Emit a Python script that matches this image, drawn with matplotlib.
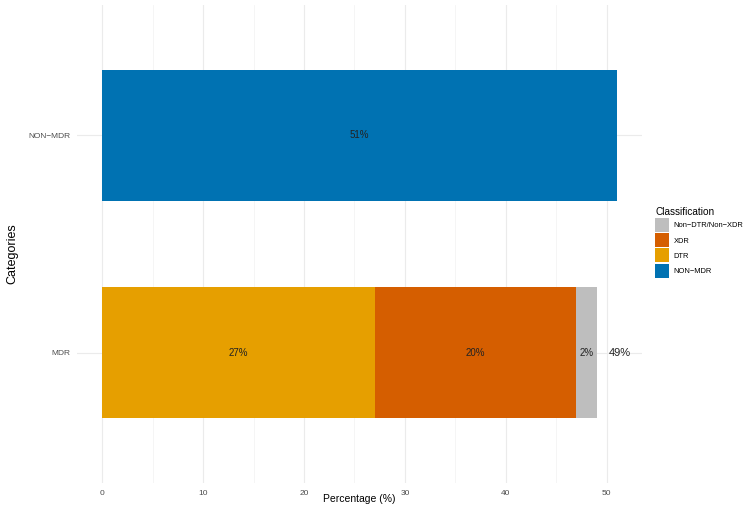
import matplotlib.pyplot as plt
from matplotlib.patches import Patch

categories = ['MDR', 'NON\u2212MDR']
classes = ['DTR', 'XDR', 'Non\u2212DTR/Non\u2212XDR', 'NON\u2212MDR']
colors = {'DTR': '#E69F00', 'XDR': '#D55E00',
          'Non\u2212DTR/Non\u2212XDR': '#BEBEBE', 'NON\u2212MDR': '#0072B2'}
# percentage for each class within each category
values = {
    'MDR': {'DTR': 27, 'XDR': 20, 'Non\u2212DTR/Non\u2212XDR': 2},
    'NON\u2212MDR': {'NON\u2212MDR': 51},
}
totals = [49, 51]

plt.rcParams['font.family'] = ['Liberation Sans', 'DejaVu Sans']

fig = plt.figure(figsize=(7.5, 5.08), dpi=100)
ax = fig.add_axes([77 / 750, 1 - 483 / 508, (642 - 77) / 750, (483 - 5) / 508])

for i, cat in enumerate(categories):
    left = 0
    for cl in classes:
        v = values[cat].get(cl)
        if not v:
            continue
        ax.barh(i + 1, v, left=left, height=0.6, color=colors[cl], zorder=2)
        ax.text(left + v / 2, i + 1, f'{v}%', ha='center', va='center',
                fontsize=7, color='#222222', zorder=3)
        left += v

# total label for MDR only
ax.text(totals[0] + 2.3, 1, f'{totals[0]}%', ha='center', va='center',
        fontsize=8, color='#222222')

ax.set_xlim(-2.5, 53.5)
ax.set_ylim(0.4, 2.6)
ax.set_yticks([1, 2])
ax.set_yticklabels(categories)
ax.set_xticks([0, 10, 20, 30, 40, 50])
ax.set_xticks([5, 15, 25, 35, 45], minor=True)
ax.tick_params(axis='both', which='both', length=0, labelsize=6,
               labelcolor='#4d4d4d', pad=5)
ax.grid(True, which='major', color='#ebebeb', linewidth=0.8, zorder=0)
ax.grid(True, which='minor', axis='x', color='#f4f4f4', linewidth=0.6, zorder=0)
for s in ax.spines.values():
    s.set_visible(False)

ax.set_xlabel('Percentage (%)', fontsize=7.5)
ax.xaxis.set_label_coords(0.5, -0.022, transform=ax.transAxes)
ax.xaxis.label.set_va('top')
ax.set_ylabel('Categories', fontsize=9)
ax.yaxis.set_label_coords(18 / 750, 0.5, transform=fig.transFigure)

order = ['Non\u2212DTR/Non\u2212XDR', 'XDR', 'DTR', 'NON\u2212MDR']
handles = [Patch(facecolor=colors[c], edgecolor='none') for c in order]
fig.legend(handles, order, title='Classification', loc='upper left',
           bbox_to_anchor=(655 / 750, 1 - 207 / 508), frameon=False,
           fontsize=5.4, title_fontsize=7.2, handlelength=1.9, handleheight=2.5,
           handletextpad=0.6, labelspacing=0.15, alignment='left',
           borderpad=0, borderaxespad=0)

fig.savefig('out.png', dpi=100)
